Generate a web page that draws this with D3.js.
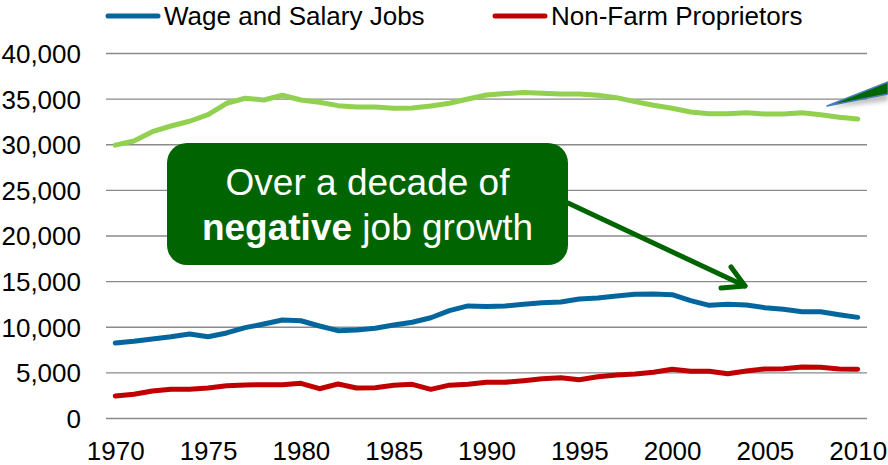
<!DOCTYPE html>
<html>
<head>
<meta charset="utf-8">
<script src="https://cdn.jsdelivr.net/npm/d3@7"></script>
<style>
  html, body { margin: 0; padding: 0; background: #ffffff; }
  svg { display: block; font-family: "Liberation Sans", Arial, Helvetica, sans-serif; }
</style>
</head>
<body>
<svg id="chart" width="888" height="465"></svg>
<script>
// Years on the horizontal axis
const years = d3.range(1970, 2011);

// Employment series (jobs)
const upperValues = [
  29900, 30350, 31380, 32000, 32520, 33240, 34490, 35040, 34850, 35370,
  34850, 34600, 34230, 34090, 34090, 33940, 33980, 34200, 34490, 34960,
  35400, 35550, 35660, 35590, 35510, 35510, 35370, 35110, 34670, 34270,
  33940, 33540, 33350, 33350, 33460, 33320, 33320, 33460, 33240, 32950,
  32770
];
const wageSalaryValues = [
  8220, 8400, 8660, 8910, 9210, 8910, 9320, 9900, 10300, 10740,
  10660, 10080, 9570, 9640, 9830, 10190, 10490, 10990, 11760, 12280,
  12220, 12280, 12460, 12640, 12710, 13040, 13150, 13370, 13550, 13590,
  13520, 12860, 12350, 12460, 12390, 12090, 11910, 11650, 11650, 11320,
  11030
];
const proprietorValues = [
  2410, 2600, 2960, 3140, 3140, 3290, 3540, 3620, 3650, 3650,
  3800, 3210, 3730, 3290, 3320, 3580, 3690, 3140, 3600, 3700,
  3910, 3910, 4090, 4310, 4420, 4200, 4530, 4710, 4820, 5010,
  5340, 5120, 5120, 4860, 5150, 5370, 5400, 5590, 5560, 5370,
  5340
];

const yTicks = [0, 5000, 10000, 15000, 20000, 25000, 30000, 35000, 40000];
const xTickYears = [1970, 1975, 1980, 1985, 1990, 1995, 2000, 2005, 2010];

const seriesList = [
  { name: "Upper", values: upperValues, color: "#92d050", legend: false },
  { name: "Wage and Salary Jobs", values: wageSalaryValues, color: "#04669d", legend: true },
  { name: "Non-Farm Proprietors", values: proprietorValues, color: "#c00000", legend: true }
];

const svg = d3.select("#chart");
const plotLeft = 106, plotRight = 867, plotTop = 53, plotBottom = 418;

const x = d3.scalePoint().domain(years).range([plotLeft, plotRight]).padding(0.5);
const y = d3.scaleLinear().domain([0, 40000]).range([plotBottom, plotTop]);

// Horizontal gridlines with value labels
const yAxis = d3.axisLeft(y)
  .tickValues(yTicks)
  .tickSize(-(plotRight - plotLeft))
  .tickPadding(25)
  .tickFormat(d3.format(","));
const gy = svg.append("g")
  .attr("transform", `translate(${plotLeft},0)`)
  .call(yAxis);
gy.select(".domain").remove();
gy.selectAll(".tick line").attr("stroke", "#8a8a8a").attr("stroke-width", 1.4);
gy.selectAll(".tick text")
  .attr("font-size", 26)
  .attr("fill", "#000")
  .attr("dy", "0.36em")
  .style("font-family", "'Liberation Sans', Arial, sans-serif");

// Year labels
const xAxis = d3.axisBottom(x).tickValues(xTickYears).tickSize(0).tickPadding(0);
const gx = svg.append("g")
  .attr("transform", `translate(0,${plotBottom})`)
  .call(xAxis);
gx.select(".domain").remove();
gx.selectAll(".tick text")
  .attr("font-size", 26)
  .attr("fill", "#000")
  .attr("y", 41.5)
  .attr("dy", 0)
  .style("font-family", "'Liberation Sans', Arial, sans-serif");

// Series lines
const line = d3.line()
  .x((d, i) => x(years[i]))
  .y(d => y(d));

svg.append("g").selectAll("path")
  .data(seriesList)
  .join("path")
  .attr("d", d => line(d.values))
  .attr("fill", "none")
  .attr("stroke", d => d.color)
  .attr("stroke-width", 5)
  .attr("stroke-linejoin", "round")
  .attr("stroke-linecap", "round");

// Legend
const legendItems = seriesList.filter(s => s.legend);
const legendX = [106, 493];
const lg = svg.append("g").selectAll("g")
  .data(legendItems)
  .join("g")
  .attr("transform", (d, i) => `translate(${legendX[i]},0)`);
lg.append("line")
  .attr("x1", 2).attr("x2", 52)
  .attr("y1", 16).attr("y2", 16)
  .attr("stroke", d => d.color)
  .attr("stroke-width", 5)
  .attr("stroke-linecap", "round");
lg.append("text")
  .attr("x", 58).attr("y", 25)
  .attr("font-size", 26)
  .attr("fill", "#000")
  .text(d => d.name);

// Off-edge callout pointer in the upper right
const defs = svg.append("defs");
defs.append("filter").attr("id", "soft")
  .append("feGaussianBlur").attr("stdDeviation", 2);
svg.append("polygon")
  .attr("points", "829,108 888,88 888,101")
  .attr("fill", "#9a9a9a")
  .attr("opacity", 0.6)
  .attr("filter", "url(#soft)");
svg.append("polygon")
  .attr("points", "827,106 888,82 888,94")
  .attr("fill", "#006600")
  .attr("stroke", "#4a7ebb")
  .attr("stroke-width", 1.5)
  .attr("stroke-linejoin", "round");

// Annotation box
const note = svg.append("g");
note.append("rect")
  .attr("x", 167).attr("y", 143)
  .attr("width", 401).attr("height", 122)
  .attr("rx", 20).attr("ry", 20)
  .attr("fill", "#006400");
const noteText = note.append("text")
  .attr("text-anchor", "middle")
  .attr("fill", "#ffffff")
  .attr("font-size", 37);
noteText.append("tspan").attr("x", 367.5).attr("y", 195).text("Over a decade of");
const l2 = noteText.append("tspan").attr("x", 367.5).attr("y", 240);
l2.append("tspan").attr("font-weight", "bold").text("negative");
l2.append("tspan").text(" job growth");

// Arrow from the box to the wage line
const arrow = svg.append("g")
  .attr("stroke", "#006400")
  .attr("stroke-width", 5)
  .attr("stroke-linecap", "round")
  .attr("stroke-linejoin", "round")
  .attr("fill", "none");
arrow.append("line").attr("x1", 568).attr("y1", 203).attr("x2", 745).attr("y2", 286);
arrow.append("polyline").attr("points", "731,267 745,286 721,288");
</script>
</body>
</html>
